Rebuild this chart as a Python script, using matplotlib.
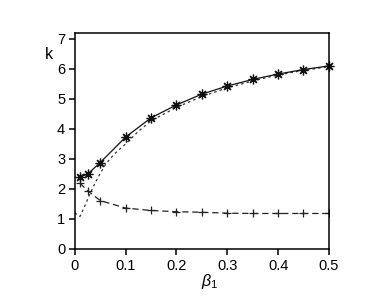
import matplotlib
matplotlib.use("Agg")
import matplotlib.pyplot as plt

plt.rcParams['font.family'] = ['Liberation Sans', 'DejaVu Sans']
plt.rcParams['mathtext.fontset'] = 'custom'
plt.rcParams['mathtext.rm'] = 'Liberation Sans'
plt.rcParams['mathtext.it'] = 'Liberation Sans:italic'

# data
beta = [0.01, 0.025, 0.05, 0.1, 0.15, 0.2, 0.25, 0.3, 0.35, 0.4, 0.45, 0.5]
k_star = [2.40, 2.49, 2.88, 3.73, 4.37, 4.80, 5.16, 5.43, 5.65, 5.83, 5.98, 6.10]
k_plus = [2.19, 1.94, 1.61, 1.36, 1.28, 1.24, 1.22, 1.19, 1.18, 1.18, 1.18, 1.18]
beta_fine = [0.0, 0.01, 0.02, 0.03, 0.04, 0.05, 0.06, 0.07, 0.08, 0.1, 0.125,
             0.15, 0.2, 0.25, 0.3, 0.35, 0.4, 0.45, 0.5]
k_dot = [1.20, 1.08, 1.45, 1.85, 2.20, 2.52, 2.80, 3.02, 3.20, 3.50, 3.92,
         4.27, 4.72, 5.08, 5.37, 5.60, 5.80, 5.95, 6.08]

fig = plt.figure(figsize=(3.82, 3.08), dpi=100)
ax = fig.add_axes([0.196, 0.192, 0.665, 0.701])

ax.plot(beta_fine, k_dot, color='#333333', lw=0.9, linestyle=(0, (2, 2.5)))
ax.plot(beta, k_plus, color='#222222', lw=0.9, linestyle=(0, (5, 3)),
        marker='+', ms=6, mew=0.9)
ax.plot(beta, k_star, color='#111111', lw=0.9,
        marker=(8, 2, 0), ms=7, mew=0.9, clip_on=False)

ax.set_xlim(0, 0.5)
ax.set_ylim(0, 7.2)
ax.set_xticks([0, 0.1, 0.2, 0.3, 0.4, 0.5])
ax.set_xticklabels(['0', '0.1', '0.2', '0.3', '0.4', '0.5'])
ax.set_yticks(range(8))

for s in ax.spines.values():
    s.set_linewidth(1.1)
ax.tick_params(direction='out', length=4, width=1.1, labelsize=10.5, pad=3)

ax.text(-0.102, 0.898, 'k', transform=ax.transAxes, fontsize=11.5,
        ha='center', va='center')
ax.text(0.53, -0.152, r'$\beta_1$', transform=ax.transAxes, fontsize=11.5,
        ha='center', va='center')

fig.savefig("out.png", dpi=100)
